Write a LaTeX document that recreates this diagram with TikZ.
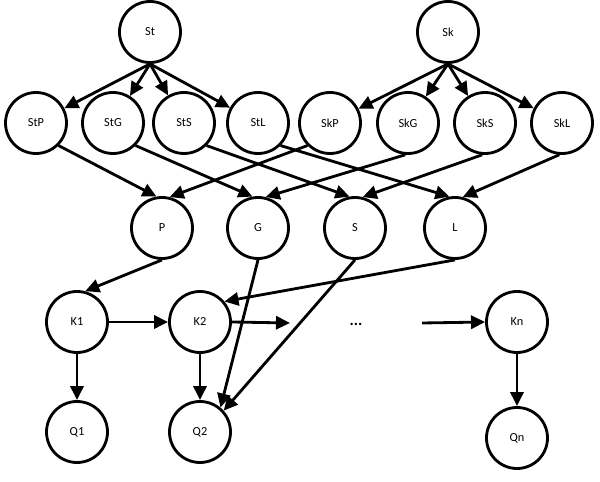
\documentclass[tikz,border=0pt]{standalone}
\usepackage{fontspec}
\setmainfont{Carlito}
\usetikzlibrary{arrows.meta}

\begin{document}
\begin{tikzpicture}[>={Triangle[length=8pt,width=7.5pt]},line width=1.6pt,
 var/.style={circle,draw,minimum size=1.22cm,inner sep=0pt,font=\fontsize{7}{8}\selectfont}]
 \useasboundingbox (0,0) rectangle (12,9.64);
 % top
 \node[var] (St) at (3,9) {St};
 \node[var] (Sk) at (8.96,9) {Sk};
 % second row
 \node[var] (StP) at (0.72,7.18) {StP};
 \node[var] (StG) at (2.26,7.18) {StG};
 \node[var] (StS) at (3.68,7.18) {StS};
 \node[var] (StL) at (5.16,7.18) {StL};
 \node[var] (SkP) at (6.6,7.18) {SkP};
 \node[var] (SkG) at (8.16,7.18) {SkG};
 \node[var] (SkS) at (9.7,7.18) {SkS};
 \node[var] (SkL) at (11.24,7.18) {SkL};
 % third row
 \node[var] (P) at (3.24,5.08) {P};
 \node[var] (G) at (5.16,5.08) {G};
 \node[var] (S) at (7.1,5.08) {S};
 \node[var] (L) at (9.1,5.08) {L};
 % chain
 \node[var] (K1) at (1.54,3.2) {K1};
 \node[var] (K2) at (4,3.2) {K2};
 \node[font=\fontsize{9}{10}\selectfont\bfseries] (dots) at (7.12,3.16) {...};
 \node[var] (Kn) at (10.34,3.2) {Kn};
 \node[var] (Q1) at (1.54,1) {Q1};
 \node[var] (Q2) at (4,1) {Q2};
 \node[var] (Qn) at (10.34,0.88) {Qn};
 \coordinate (K2end) at (5.8,3.18);
 \coordinate (Knstart) at (8.44,3.18);

 \draw[->] (St.south)--(StP);
 \draw[->] (St.south)--(StG);
 \draw[->] (St.south)--(StS);
 \draw[->] (St.south)--(StL);
 \draw[->] (Sk.south)--(SkP);
 \draw[->] (Sk.south)--(SkG);
 \draw[->] (Sk.south)--(SkS);
 \draw[->] (Sk.south)--(SkL);

 \draw[->] (StP.south east)--(P.100);
 \draw[->] (StG.south east)--(G.100);
 \draw[->] (StS.south east)--(S.100);
 \draw[->] (StL.south east)--(L.100);
 \draw[->] (SkP.south west)--(P.76);
 \draw[->] (SkG.-95)--(G.76);
 \draw[->] (SkS.-95)--(S.76);
 \draw[->] (SkL.-95)--(L.76);

 \draw[->] (P.south)--(K1.75);
 \draw[->] (L.south)--(K2.40);
 \draw[->] (G.south)--(Q2.50);
 \draw[->] (S.south)--(Q2.42);

 \draw[->] (K1)--(K2);
 \draw[->] (K2.east)--(K2end);
 \draw[->] (Knstart)--(Kn.west);
 \draw[->] (K1)--(Q1);
 \draw[->] (K2)--(Q2);
 \draw[->] (Kn)--(Qn);
\end{tikzpicture}
\end{document}
